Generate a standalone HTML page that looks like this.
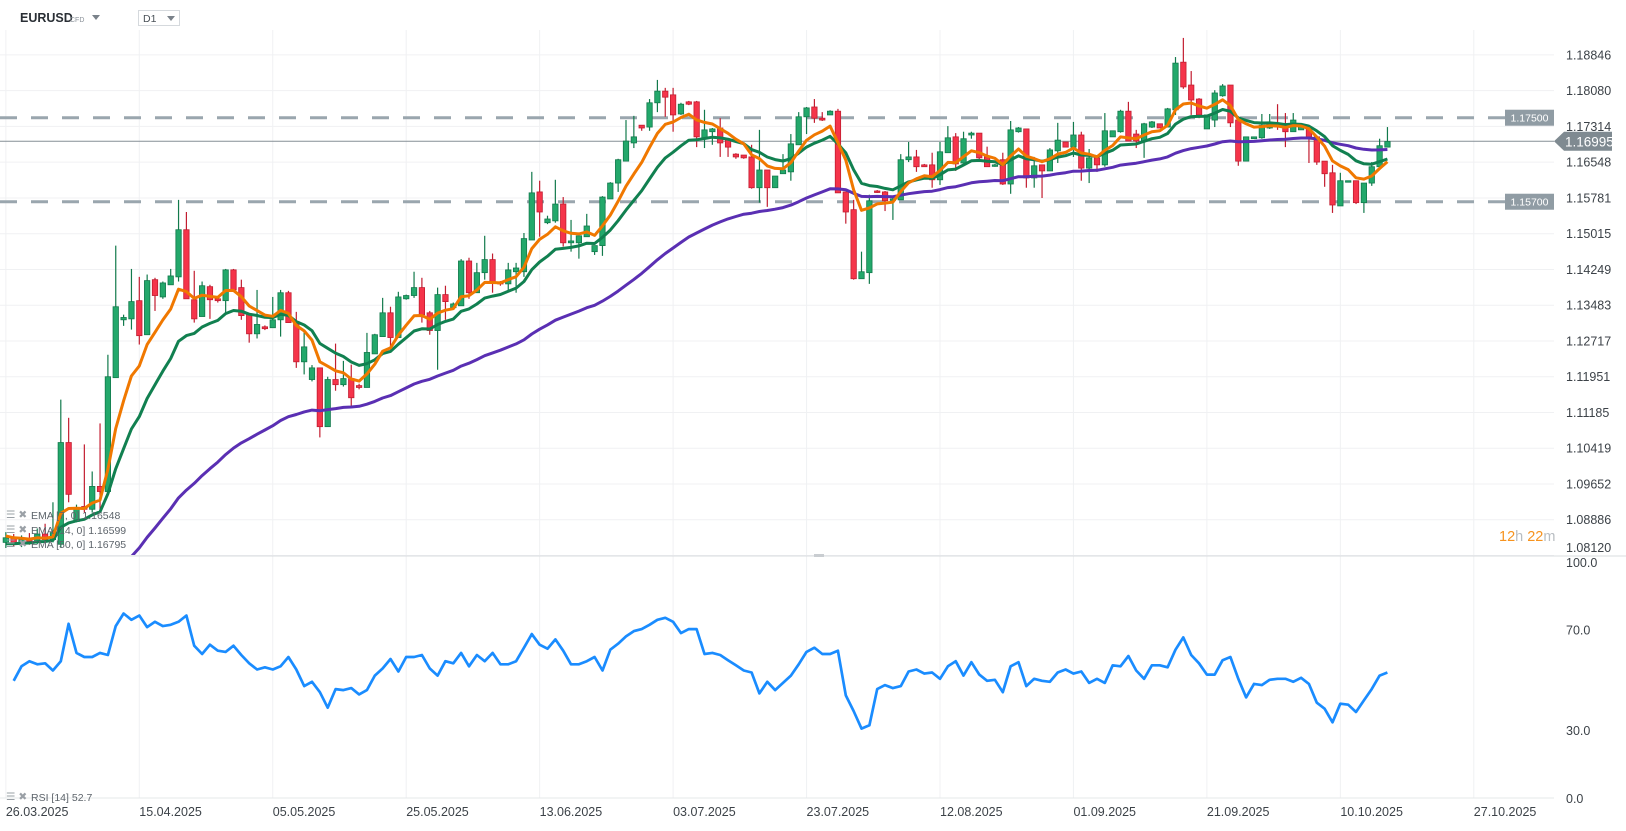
<!DOCTYPE html>
<html><head><meta charset="utf-8">
<style>
html,body{margin:0;padding:0;background:#fff;width:1626px;height:831px;overflow:hidden;font-family:"Liberation Sans",sans-serif;}
svg{position:absolute;left:0;top:0;}
</style></head>
<body>
<svg id="chart" width="1626" height="831" viewBox="0 0 1626 831">
  <defs><clipPath id="pclip"><rect x="0" y="0" width="1554" height="555"/></clipPath>
  <clipPath id="rclip"><rect x="0" y="558" width="1554" height="240"/></clipPath></defs>
  <g id="grid"></g>
  <g id="levels"></g>
  <g id="candles" clip-path="url(#pclip)"></g>
  <g id="emas" clip-path="url(#pclip)"></g>
  <g id="rsi" clip-path="url(#rclip)"></g>
  <g id="axes"></g>
  <g>
    <text x="20" y="22" font-size="12.5" font-weight="bold" fill="#2a2f35">EURUSD</text>
    <text x="70" y="22" font-size="7" fill="#8a9199">CFD</text>
    <path d="M92 15 L100 15 L96 20 Z" fill="#7a828a"/>
    <rect x="138.5" y="10.5" width="41" height="15" fill="#fff" stroke="#d5d9dd"/>
    <text x="143" y="22" font-size="10.5" fill="#4a5158">D1</text>
    <path d="M167 16 L175 16 L171 21 Z" fill="#7a828a"/>
  </g>
  <g font-size="10.5" fill="#5d646b">
    <text x="6" y="518" fill="#9aa0a6">☰ ✖</text>
    <text x="31" y="519">EMA [7, 0] 1.16548</text>
    <text x="6" y="533" fill="#9aa0a6">☰ ✖</text>
    <text x="31" y="534">EMA [14, 0] 1.16599</text>
    <text x="6" y="547" fill="#9aa0a6">☰ ✖</text>
    <text x="31" y="548">EMA [50, 0] 1.16795</text>
    <text x="6" y="800" fill="#9aa0a6">☰ ✖</text>
    <text x="31" y="801">RSI [14]  52.7</text>
  </g>
  <g font-size="14.5">
    <text x="1499" y="541"><tspan fill="#f7931e">12</tspan><tspan fill="#b8bdc2">h </tspan><tspan fill="#f7931e">22</tspan><tspan fill="#b8bdc2">m</tspan></text>
  </g>
</svg>
<script>
const opens=[1.0840,1.0850,1.0838,1.0846,1.0842,1.0858,
1.0846,1.0836,1.1054,1.0885,1.0917,1.0911,1.0960,1.0949,1.1193,1.1317,1.1319,1.1358,1.1285,1.1403,1.1366,1.1392,1.1409,1.1510,1.1360,1.1324,1.1388,1.1362,1.1358,1.1424,1.1386,1.1328,1.1287,1.1302,1.1300,1.1317,1.1375,1.1313,1.1227,1.1189,1.1214,1.1088,1.1189,1.1178,1.1191,1.1176,
1.1172,1.1244,1.1281,1.1332,1.1279,1.1362,1.1369,1.1386,1.1332,1.1294,1.1371,1.1343,1.1347,1.1443,1.1375,1.1418,1.1446,1.1397,1.1394,1.1420,1.1420,1.1488,1.1591,1.1525,1.1529,1.1565,1.1482,1.1482,1.1495,1.1463,1.1476,1.1576,1.1610,1.1657,1.1696,1.1734,1.1730,1.1782,1.1807,1.1799,1.1758,1.1784,1.1784,
1.1705,1.1720,1.1728,1.1702,1.1672,1.1670,1.1666,1.1600,1.1638,1.1600,1.1630,1.1634,1.1692,1.1752,1.1773,1.1749,1.1756,1.1764,1.1591,1.1553,1.1405,1.1418,1.1593,1.1591,1.1574,1.1574,1.1660,1.1666,1.1649,1.1649,1.1617,1.1675,1.1709,1.1653,1.1713,1.1717,1.1666,1.1647,1.1660,1.1608,1.1720,1.1726,1.1621,
1.1649,1.1636,1.1679,1.1698,1.1687,1.1713,1.1642,1.1664,1.1649,1.1709,1.1720,1.1764,1.1715,1.1700,1.1730,1.1737,1.1730,1.1767,1.1869,1.1820,1.1790,1.1726,1.1745,1.1797,1.1820,1.1745,1.1657,1.1705,1.1707,1.1728,1.1737,1.1730,1.1720,1.1724,1.1730,1.1709,1.1657,1.1632,1.1561,1.1613,1.1615,1.1568,1.1610,1.1645,1.1687];
const highs=[1.0862,1.0858,1.0855,1.0860,1.0870,1.0880,
1.0926,1.1146,1.1107,1.0921,1.1050,1.0992,1.1095,1.1242,1.1476,1.1328,1.1426,1.1409,1.1414,1.1407,1.1399,1.1426,1.1574,1.1548,1.1422,1.1399,1.1392,1.1366,1.1426,1.1426,1.1403,1.1328,1.1381,1.1305,1.1366,1.1381,1.1379,1.1334,1.1292,1.1220,1.1214,1.1195,1.1266,1.1229,1.1221,1.1180,
1.1289,1.1287,1.1364,1.1345,1.1377,1.1371,1.1420,1.1407,1.1336,1.1386,1.1390,1.1354,1.1447,1.1450,1.1439,1.1497,1.1459,1.1400,1.1439,1.1439,1.1503,1.1634,1.1615,1.1540,1.1617,1.1580,1.1531,1.1497,1.1544,1.1476,1.1582,1.1612,1.1662,1.1745,1.1754,1.1734,1.1790,1.1831,1.1814,1.1814,1.1782,1.1786,1.1786,
1.1767,1.1728,1.1749,1.1702,1.1674,1.1670,1.1692,1.1724,1.1638,1.1625,1.1672,1.1715,1.1762,1.1773,1.1790,1.1762,1.1766,1.1769,1.1591,1.1574,1.1463,1.1585,1.1595,1.1593,1.1580,1.1672,1.1698,1.1681,1.1651,1.1675,1.1698,1.1732,1.1717,1.1720,1.1720,1.1717,1.1688,1.1651,1.1675,1.1743,1.1730,1.1726,1.1666,
1.1649,1.1685,1.1739,1.1698,1.1741,1.1720,1.1683,1.1664,1.1760,1.1722,1.1767,1.1784,1.1724,1.1739,1.1743,1.1737,1.1771,1.1880,1.1921,1.1850,1.1792,1.1756,1.1809,1.1822,1.1820,1.1752,1.1709,1.1709,1.1758,1.1758,1.1779,1.1760,1.1760,1.1730,1.1730,1.1709,1.1657,1.1649,1.1632,1.1615,1.1615,1.1610,1.1655,1.1705,1.1730];
const lows=[1.0828,1.0832,1.0830,1.0835,1.0836,1.0840,
1.0840,1.0829,1.0926,1.0883,1.0904,1.0904,1.0904,1.0949,1.1193,1.1304,1.1296,1.1264,1.1285,1.1336,1.1362,1.1392,1.1399,1.1362,1.1311,1.1324,1.1319,1.1354,1.1332,1.1379,1.1317,1.1268,1.1277,1.1295,1.1300,1.1281,1.1311,1.1214,1.1200,1.1185,1.1065,1.1088,1.1165,1.1174,1.1131,1.1168,
1.1172,1.1244,1.1281,1.1259,1.1279,1.1360,1.1364,1.1311,1.1285,1.1210,1.1317,1.1341,1.1347,1.1362,1.1375,1.1403,1.1375,1.1390,1.1381,1.1375,1.1409,1.1488,1.1495,1.1522,1.1525,1.1474,1.1463,1.1448,1.1495,1.1456,1.1454,1.1576,1.1591,1.1657,1.1685,1.1722,1.1722,1.1762,1.1752,1.1720,1.1756,1.1777,1.1687,
1.1685,1.1692,1.1666,1.1666,1.1662,1.1662,1.1598,1.1568,1.1559,1.1600,1.1630,1.1615,1.1692,1.1715,1.1739,1.1743,1.1756,1.1589,1.1523,1.1403,1.1405,1.1394,1.1589,1.1550,1.1531,1.1574,1.1655,1.1634,1.1645,1.1600,1.1606,1.1675,1.1636,1.1653,1.1705,1.1660,1.1645,1.1645,1.1606,1.1587,1.1718,1.1600,1.1600,
1.1578,1.1636,1.1653,1.1687,1.1666,1.1615,1.1610,1.1634,1.1645,1.1709,1.1718,1.1700,1.1685,1.1664,1.1728,1.1728,1.1730,1.1756,1.1812,1.1756,1.1749,1.1726,1.1730,1.1795,1.1730,1.1647,1.1657,1.1705,1.1705,1.1726,1.1724,1.1687,1.1720,1.1724,1.1653,1.1649,1.1602,1.1546,1.1561,1.1613,1.1565,1.1546,1.1604,1.1645,1.1687];
const closes=[1.0850,1.0838,1.0846,1.0842,1.0858,1.0846,
1.0861,1.1054,1.0943,1.0915,1.0911,1.0960,1.0949,1.1195,1.1345,1.1322,1.1356,1.1283,1.1401,1.1369,1.1396,1.1411,1.1510,1.1362,1.1319,1.1390,1.1360,1.1358,1.1424,1.1381,1.1326,1.1287,1.1307,1.1298,1.1317,1.1375,1.1311,1.1227,1.1259,1.1214,1.1088,1.1189,1.1178,1.1191,1.1150,1.1172,
1.1247,1.1285,1.1332,1.1279,1.1366,1.1369,1.1386,1.1328,1.1294,1.1371,1.1356,1.1351,1.1443,1.1375,1.1418,1.1446,1.1396,1.1394,1.1424,1.1428,1.1491,1.1589,1.1548,1.1533,1.1565,1.1482,1.1486,1.1497,1.1518,1.1476,1.1580,1.1610,1.1660,1.1700,1.1709,1.1728,1.1782,1.1807,1.1794,1.1756,1.1779,1.1779,1.1709,
1.1724,1.1726,1.1696,1.1687,1.1666,1.1664,1.1600,1.1638,1.1600,1.1625,1.1638,1.1694,1.1752,1.1771,1.1749,1.1745,1.1764,1.1589,1.1548,1.1405,1.1420,1.1572,1.1591,1.1572,1.1576,1.1660,1.1666,1.1645,1.1645,1.1617,1.1677,1.1707,1.1651,1.1705,1.1717,1.1664,1.1645,1.1649,1.1608,1.1724,1.1728,1.1621,1.1647,
1.1636,1.1681,1.1702,1.1687,1.1713,1.1642,1.1664,1.1649,1.1722,1.1722,1.1764,1.1700,1.1700,1.1737,1.1741,1.1728,1.1769,1.1867,1.1816,1.1788,1.1756,1.1756,1.1803,1.1818,1.1739,1.1657,1.1709,1.1709,1.1734,1.1739,1.1730,1.1720,1.1745,1.1730,1.1709,1.1655,1.1630,1.1563,1.1615,1.1615,1.1568,1.1610,1.1645,1.1690,1.1699];
const emaPeriods=[7,14,50];
const emaSeeds=[1.0855,1.0835,1.0600];
const rsiValues=[49.8,55.6,57.6,56.4,56.8,53.9,57.6,72.5,60.9,59.3,59.3,60.9,60.1,71.6,76.6,74.1,75.8,71.2,73.3,71.6,72.1,73.3,75.8,63.8,60.5,64.2,61.8,61.3,63.8,60.1,56.8,54.3,55.2,54.3,55.6,59.3,54.3,47.7,49.4,45.3,39.1,46.5,46.1,46.9,44.4,46.1,51.9,54.7,58.5,53.5,59.3,59.3,60.1,54.7,51.9,57.6,56.8,60.9,55.6,60.1,57.6,60.9,56.4,56.4,57.6,63.0,68.4,64.2,62.6,66.3,61.8,56.4,56.4,57.6,59.3,53.9,62.2,64.6,67.5,69.6,70.4,72.1,74.1,74.9,73.3,68.8,70.4,70.4,60.5,60.9,60.1,58.0,56.0,53.9,53.1,44.8,49.4,46.1,49.0,51.9,56.4,61.3,63.0,60.5,60.5,61.8,44.0,37.8,30.8,32.1,46.5,48.1,46.9,47.7,53.5,54.3,52.7,53.1,50.6,55.6,57.6,51.9,57.2,52.3,49.8,50.2,45.3,55.6,57.2,47.7,50.6,49.8,49.4,53.1,54.3,52.7,53.5,49.0,50.6,49.0,56.0,55.6,59.7,53.9,50.6,56.0,56.0,55.2,62.2,67.1,60.1,56.8,52.3,52.3,58.0,59.3,50.6,43.2,48.6,48.1,50.2,50.6,50.6,49.4,51.0,48.6,41.1,38.7,33.3,40.7,40.3,37.4,42.0,46.5,51.9,53.1];
const priceTicks=["1.18846","1.18080","1.17314","1.16548","1.15781","1.15015","1.14249","1.13483","1.12717","1.11951","1.11185","1.10419","1.09652","1.08886","1.08120"];
const rsiTicks=[100,70,30,0];
const dateLabels=["26.03.2025","15.04.2025","05.05.2025","25.05.2025","13.06.2025","03.07.2025","23.07.2025","12.08.2025","01.09.2025","21.09.2025","10.10.2025","27.10.2025"];
const dateCandleIdx=[0,17,34,51,68,85,102,119,136,153,170,187];
const levelValues=[1.175,1.157];
const lastPrice=1.16995;

const NS="http://www.w3.org/2000/svg";
function mk(tag,attrs,parent){const e=document.createElementNS(NS,tag);for(const k in attrs)e.setAttribute(k,attrs[k]);parent.appendChild(e);return e;}
const X0=5.85,DX=7.85;
function xOf(i){return X0+i*DX;}
function yP(p){return 54.9+(1.18846-p)*4667;}
function yR(v){return 730.6-(v-30)*2.513;}

const grid=document.getElementById('grid'),axes=document.getElementById('axes');
priceTicks.forEach(t=>{
  const y=yP(parseFloat(t));
  const l=mk('line',{x1:0,x2:1554,y1:y,y2:y,stroke:'#f0f1f3','stroke-width':1},grid);
  
  
  const tx=mk('text',{x:1566,y:Math.min(y+4.5,552),'font-size':12.5,fill:'#3c4248'},axes);
  tx.textContent=t;
  
  
});
dateLabels.forEach((d,k)=>{
  const x=xOf(dateCandleIdx[k]);
  const l=mk('line',{x1:x,x2:x,y1:30,y2:798,stroke:'#f0f1f3','stroke-width':1},grid);
  
  
  const tx=mk('text',{x:x,y:816,'font-size':12.5,fill:'#3c4248'},axes);
  tx.textContent=d;
  
  
});
rsiTicks.forEach(v=>{
  let y=yR(v)+4.5; if(v===100)y=567; if(v===0)y=803;
  const tx=mk('text',{x:1566,y:y,'font-size':12.5,fill:'#3c4248'},axes);
  tx.textContent=v.toFixed(1);
  
  
});
const sep=mk('line',{x1:0,x2:1626,y1:556,y2:556,stroke:'#d9dcdf','stroke-width':1},axes);


const dl=mk('line',{x1:0,x2:1554,y1:798,y2:798,stroke:'#e6e8ea','stroke-width':1},axes);



const lv=document.getElementById('levels');
levelValues.forEach(v=>{
  const y=yP(v);
  const l=mk('line',{x1:0,x2:1505,y1:y,y2:y,stroke:'#9aa6ae','stroke-width':3,'stroke-dasharray':'17 14'},lv);
  
  
  const r=mk('rect',{x:1505,y:y-8,width:49,height:16,fill:'#909ca4'},lv);
  
  
  const t=mk('text',{x:1529.5,y:y+4,'font-size':10.5,fill:'#fff','text-anchor':'middle'},lv);
  t.textContent=v.toFixed(5);
  
  
});
{
  const y=yP(lastPrice);
  const l=mk('line',{x1:0,x2:1554,y1:y,y2:y,stroke:'#858f96','stroke-width':1},lv);
  
  
  const pg=mk('path',{d:`M1554 ${y} L1564 ${y-9.5} L1612 ${y-9.5} L1612 ${y+9.5} L1564 ${y+9.5} Z`,fill:'#7f8a91'},lv);
  
  
  const t=mk('text',{x:1565,y:y+5,'font-size':13.5,fill:'#fff'},lv);
  t.textContent=lastPrice.toFixed(5);
  
  
}
const cg=document.getElementById('candles');
for(let i=0;i<closes.length;i++){
  const up=closes[i]>=opens[i];
  const x=xOf(i);
  const fill=up?'#23a86b':'#f5344a', st=up?'#127a4c':'#c21d30';
  const w=mk('line',{x1:x,x2:x,y1:yP(highs[i]),y2:yP(lows[i]),stroke:st,'stroke-width':1.2},cg);
  
  
  const top=yP(Math.max(opens[i],closes[i])),bot=yP(Math.min(opens[i],closes[i]));
  const b=mk('rect',{x:x-2.7,y:top,width:5.4,height:Math.max(bot-top,1.5),fill:fill,stroke:st,'stroke-width':0.8},cg);
  
  
}
const eg=document.getElementById('emas');
const emaColors=['#f07800','#118050','#5a2fb3'];
[2,1,0].forEach(k=>{
  const a=2/(emaPeriods[k]+1);let e=emaSeeds[k];const pts=[];
  for(let i=0;i<closes.length;i++){e=a*closes[i]+(1-a)*e;pts.push(xOf(i).toFixed(1)+','+yP(e).toFixed(1));}
  const pl=mk('polyline',{points:pts.join(' '),fill:'none',stroke:emaColors[k],'stroke-width':3,'stroke-linejoin':'round'},eg);
  
  
});
const rg=document.getElementById('rsi');
const n=closes.length,m=rsiValues.length;
const rp=rsiValues.map((v,j)=>xOf(n-m+j).toFixed(1)+','+yR(v).toFixed(1));
const rl=mk('polyline',{points:rp.join(' '),fill:'none',stroke:'#1a8cff','stroke-width':2.7,'stroke-linejoin':'round'},rg);


const hd=mk('rect',{x:814,y:554,width:10,height:3,fill:'#c9cdd1'},axes);


</script>
</body></html>
